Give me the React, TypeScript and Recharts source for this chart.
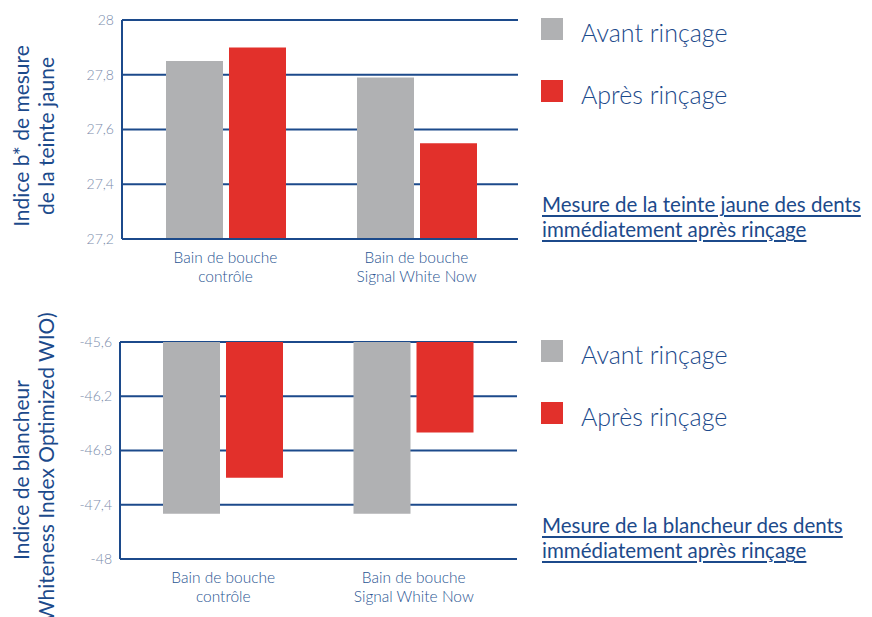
import React from "react";
import { BarChart, Bar, XAxis, YAxis, CartesianGrid } from "recharts";

const categories = ["Bain de bouche\ncontrôle", "Bain de bouche\nSignal White Now"];
const seriesNames = ["Avant rinçage", "Après rinçage"];
const yellowBefore = [27.85, 27.79];
const yellowAfter = [27.9, 27.55];
const whiteBefore = [-47.5, -47.5];
const whiteAfter = [-47.1, -46.6];
const yellowTicks = [27.2, 27.4, 27.6, 27.8, 28];
const whiteTicks = [-48, -47.4, -46.8, -46.2, -45.6];
const yellowLabel = ["Indice b* de mesure", "de la teinte jaune"];
const whiteLabel = ["Indice de blancheur", "(Whiteness Index Optimized WIO)"];
const yellowNote = ["Mesure de la teinte jaune des dents", "immédiatement après rinçage"];
const whiteNote = ["Mesure de la blancheur des dents", "immédiatement après rinçage"];

const BLUE = "#1c4a8b";
const GRAY = "#b0b1b3";
const RED = "#e2302b";
const FONT = "Lato, 'Open Sans', sans-serif";

const yellowData = categories.map((c, i) => ({ cat: c, before: yellowBefore[i], after: yellowAfter[i] }));
const whiteData = categories.map((c, i) => ({ cat: c, before: whiteBefore[i], after: whiteAfter[i] }));

const fmt = (v: number) => String(v).replace(".", ",");

const CatTick = (props: any) => {
  const { x, y, payload } = props;
  const lines = String(payload.value).split("\n");
  return (
    <text x={x} y={y} textAnchor="middle" fill="#2a5592" fontSize={15.5} fontFamily={FONT} fontWeight={300}>
      {lines.map((l, i) => (
        <tspan key={i} x={x} dy={i === 0 ? 16 : 19}>
          {l}
        </tspan>
      ))}
    </text>
  );
};

const makeYLabel = (lines: string[], cy: number) => () => (
  <g>
    {lines.map((l, i) => {
      const x = 29 + i * 25;
      return (
        <text
          key={i}
          x={x}
          y={cy}
          transform={`rotate(-90, ${x}, ${cy})`}
          textAnchor="middle"
          fill={BLUE}
          fontSize={21}
          fontFamily={FONT}
          fontWeight={400}
        >
          {l}
        </text>
      );
    })}
  </g>
);

const Legend = ({ top }: { top: number }) => (
  <div style={{ position: "absolute", left: 541, top, fontFamily: FONT }}>
    {seriesNames.map((n, i) => (
      <div key={n} style={{ position: "absolute", left: 0, top: i * 62, width: 300, height: 24 }}>
        <div style={{ position: "absolute", left: 0, top: 0, width: 22, height: 22, background: i === 0 ? GRAY : RED }} />
        <div
          style={{
            position: "absolute",
            left: 40,
            top: -3,
            fontSize: 25,
            fontWeight: 300,
            color: BLUE,
            whiteSpace: "nowrap",
            lineHeight: "34px",
          }}
        >
          {n}
        </div>
      </div>
    ))}
  </div>
);

const Note = ({ top, lines }: { top: number; lines: string[] }) => (
  <div
    style={{
      position: "absolute",
      left: 542,
      top,
      fontFamily: FONT,
      fontSize: 20.5,
      fontWeight: 400,
      color: BLUE,
      lineHeight: "25px",
      whiteSpace: "nowrap",
    }}
  >
    {lines.map((l) => (
      <div key={l} style={{ textDecoration: "underline", textUnderlineOffset: 3 }}>
        {l}
      </div>
    ))}
  </div>
);

export default function App() {
  return (
    <div style={{ position: "absolute", left: 0, top: 0, width: 872, height: 617, background: "#fff", overflow: "hidden" }}>
      <div style={{ position: "absolute", left: 0, top: 0 }}>
        <BarChart
          width={530}
          height={300}
          data={yellowData}
          margin={{ top: 20, right: 12, left: 0, bottom: 11 }}
          barSize={57}
          barGap={6}
        >
          <CartesianGrid vertical={false} stroke={BLUE} strokeWidth={2} />
          <XAxis
            dataKey="cat"
            height={50}
            tickLine={false}
            axisLine={{ stroke: BLUE, strokeWidth: 2 }}
            tick={<CatTick />}
            interval={0}
            padding={{ left: 8, right: 6 }}
          />
          <YAxis
            width={122}
            domain={[27.2, 28]}
            ticks={yellowTicks}
            tickFormatter={fmt}
            tickLine={false}
            axisLine={{ stroke: BLUE, strokeWidth: 2 }}
            tick={{ fill: "#7a8bab", fontSize: 14, fontFamily: FONT, fontWeight: 300 }}
            label={{ content: makeYLabel(yellowLabel, 136) }}
          />
          <Bar dataKey="before" name={seriesNames[0]} fill={GRAY} isAnimationActive={false} />
          <Bar dataKey="after" name={seriesNames[1]} fill={RED} isAnimationActive={false} />
        </BarChart>
      </div>
      <div style={{ position: "absolute", left: 0, top: 300 }}>
        <BarChart
          width={529}
          height={317}
          data={whiteData}
          margin={{ top: 42, right: 12, left: 0, bottom: 8 }}
          barSize={57}
          barGap={6}
        >
          <CartesianGrid vertical={false} stroke={BLUE} strokeWidth={2} />
          <XAxis
            dataKey="cat"
            height={50}
            tickLine={false}
            axisLine={{ stroke: BLUE, strokeWidth: 2 }}
            tick={<CatTick />}
            interval={0}
            padding={{ left: 8, right: 8 }}
          />
          <YAxis
            width={120}
            domain={[-48, -45.6]}
            ticks={whiteTicks}
            tickFormatter={fmt}
            tickLine={false}
            axisLine={{ stroke: BLUE, strokeWidth: 2 }}
            tick={{ fill: "#7a8bab", fontSize: 14, fontFamily: FONT, fontWeight: 300 }}
            label={{ content: makeYLabel(whiteLabel, 170) }}
          />
          <Bar dataKey="before" name={seriesNames[0]} fill={GRAY} isAnimationActive={false} />
          <Bar dataKey="after" name={seriesNames[1]} fill={RED} isAnimationActive={false} />
        </BarChart>
      </div>
      <Legend top={18} />
      <Note top={192} lines={yellowNote} />
      <Legend top={340} />
      <Note top={513} lines={whiteNote} />
    </div>
  );
}
